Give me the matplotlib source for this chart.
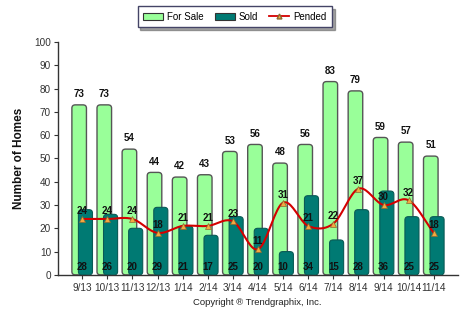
import numpy as np
import matplotlib
matplotlib.use("Agg")
import matplotlib.pyplot as plt
from matplotlib.patches import FancyBboxPatch

months = ["9/13", "10/13", "11/13", "12/13", "1/14", "2/14", "3/14", "4/14",
          "5/14", "6/14", "7/14", "8/14", "9/14", "10/14", "11/14"]
for_sale = [73, 73, 54, 44, 42, 43, 53, 56, 48, 56, 83, 79, 59, 57, 51]
sold = [28, 26, 20, 29, 21, 17, 25, 20, 10, 34, 15, 28, 36, 25, 25]
pended = [24, 24, 24, 18, 21, 21, 23, 11, 31, 21, 22, 37, 30, 32, 18]

GREEN = "#99FF99"
TEAL = "#007A73"
RED = "#D40000"
ORANGE = "#F5A840"
TXT = "#111111"

plt.rcParams["font.family"] = ["Liberation Sans", "DejaVu Sans"]

fig = plt.figure(figsize=(4.76, 3.23), dpi=100)
ax = fig.add_axes([0.122, 0.149, 0.840, 0.721])

x = np.arange(len(months))


def rounded(bars, face, edge, lw, z):
    """Swap plain bar rectangles for ones with rounded top corners."""
    for b in bars:
        bx, by, bw, bh = b.get_x(), b.get_y(), b.get_width(), b.get_height()
        b.set_visible(False)
        p = FancyBboxPatch((bx, by), bw, bh,
                           boxstyle="round,pad=0,rounding_size=0.14",
                           mutation_aspect=10.0,
                           facecolor=face, edgecolor=edge, linewidth=lw,
                           zorder=z)
        ax.add_patch(p)


fs_bars = ax.bar(x - 0.12, for_sale, width=0.58)
rounded(fs_bars, GREEN, "#555555", 1.0, 2)
sd_bars = ax.bar(x + 0.13, sold, width=0.56)
rounded(sd_bars, TEAL, "#0a5a55", 0.8, 3)


def catmull_rom(xs, ys, n=20):
    xs = np.asarray(xs, float)
    ys = np.asarray(ys, float)
    px = np.concatenate([[2 * xs[0] - xs[1]], xs, [2 * xs[-1] - xs[-2]]])
    py = np.concatenate([[2 * ys[0] - ys[1]], ys, [2 * ys[-1] - ys[-2]]])
    ox, oy = [], []
    for i in range(1, len(px) - 2):
        t = np.linspace(0, 1, n, endpoint=False)
        for arr, out in ((px, ox), (py, oy)):
            p0, p1, p2, p3 = arr[i - 1], arr[i], arr[i + 1], arr[i + 2]
            out.extend(0.5 * ((2 * p1) + (-p0 + p2) * t
                              + (2 * p0 - 5 * p1 + 4 * p2 - p3) * t ** 2
                              + (-p0 + 3 * p1 - 3 * p2 + p3) * t ** 3))
    ox.append(xs[-1])
    oy.append(ys[-1])
    return np.array(ox), np.array(oy)


sx, sy = catmull_rom(x, pended)
ax.plot(sx, sy, color=RED, lw=1.5, zorder=4)
ax.plot(x, pended, linestyle="none", marker="^", markersize=5,
        markerfacecolor=ORANGE, markeredgecolor="#8a6a30",
        markeredgewidth=0.5, zorder=5)

for i in range(len(months)):
    ax.text(x[i] - 0.12, for_sale[i] + 2.5, str(for_sale[i]), ha="center",
            va="bottom", fontsize=7, color=TXT, fontweight="bold", zorder=6)
    ax.text(x[i] + 0.0, 3.5, str(sold[i]), ha="center", va="center",
            fontsize=7, color=TXT, fontweight="bold", zorder=6)
    ax.text(x[i], pended[i] + 1.2, str(pended[i]), ha="center",
            va="bottom", fontsize=7, color=TXT, fontweight="bold", zorder=6)

ax.set_xlim(-0.96, len(months) - 0.04)
ax.set_ylim(0, 100)
ax.set_yticks(np.arange(0, 101, 10))
ax.set_xticks(x)
ax.set_xticklabels(months)
ax.tick_params(axis="both", labelsize=7.2, colors="#333333", length=3,
               width=0.8, pad=2)
ax.tick_params(axis="x", pad=3)
for s in ("top", "right"):
    ax.spines[s].set_visible(False)
for s in ("left", "bottom"):
    ax.spines[s].set_color("#333333")
    ax.spines[s].set_linewidth(1.0)

ax.set_ylabel("Number of Homes", fontsize=8.5, fontweight="bold", color="#111111",
              labelpad=7)

legend_handles = [
    plt.Rectangle((0, 0), 1, 1, facecolor=GREEN, edgecolor="#333333", lw=0.8),
    plt.Rectangle((0, 0), 1, 1, facecolor=TEAL, edgecolor="#333333", lw=0.8),
    plt.Line2D([0], [0], color=RED, lw=1.3, marker="^", markersize=3.5,
               markerfacecolor=ORANGE, markeredgecolor="#8a6a30"),
]
leg = fig.legend(legend_handles, ["For Sale", "Sold", "Pended"],
                 loc="upper center", bbox_to_anchor=(0.493, 0.995), ncol=3,
                 fontsize=7, frameon=True, fancybox=False, shadow=True,
                 handlelength=2.1, handleheight=0.7, handletextpad=0.4,
                 columnspacing=1.1, borderpad=0.55)
leg.get_frame().set_edgecolor("#444466")
leg.get_frame().set_linewidth(1.0)

fig.text(0.54, 0.065, "Copyright \u00ae Trendgraphix, Inc.", ha="center",
         va="center", fontsize=6.8, color="#222222")

fig.savefig("out.png", dpi=100)
